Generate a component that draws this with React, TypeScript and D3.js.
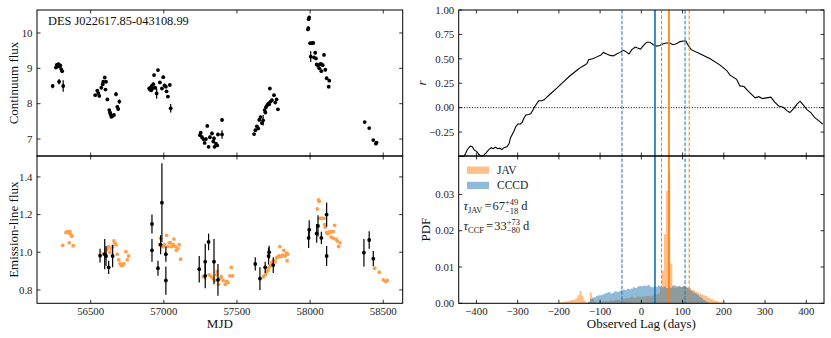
import { useEffect, useRef } from "react";
import * as d3 from "d3";

const W = 831;
const H = 338;
const FONT = "'Liberation Serif', 'Times New Roman', serif";
const ORANGE = "#ff7f0e";
const BLUE = "#1f77b4";

// continuum light curve (MJD, flux, error)
const contMjd = [
  56240, 56262, 56268, 56274, 56280, 56286, 56292, 56298, 56305, 56284, 56312,
  56531, 56545, 56552, 56559, 56573, 56582, 56586, 56596, 56601, 56605, 56614, 56627, 56632, 56636, 56641, 56650, 56659, 56673, 56682, 56688, 56696,
  56900, 56905, 56909, 56914, 56918, 56923, 56928, 56933, 56941, 56951, 56960, 56973, 56987, 56996, 57005, 57014, 57019, 57028, 57041, 57047,
  57247, 57252, 57261, 57270, 57279, 57288, 57297, 57306, 57315, 57329, 57338, 57343, 57347, 57356, 57365, 57370, 57398, 57398,
  57617, 57626, 57636, 57645, 57652, 57661, 57670, 57679, 57689, 57694, 57698, 57707, 57716, 57720, 57725, 57730, 57739, 57753, 57762, 57771, 57780,
  57985, 57988, 57990, 57994, 58000, 58004, 58013, 58022, 58026, 58035, 58040, 58045, 58054, 58063, 58068, 58077, 58077, 58086, 58095, 58104, 58113, 58127, 58131,
  58373, 58404, 58432, 58450, 58454,
];
const contFlux = [
  8.5, 9.02, 9.1, 9.05, 9.12, 9.06, 9.08, 8.98, 8.92, 8.62, 8.5,
  8.24, 8.37, 8.3, 8.22, 8.45, 8.55, 8.62, 8.74, 8.4, 8.62, 8.12, 7.82, 7.75, 7.7, 7.63, 7.65, 7.68, 8.27, 7.91, 7.85, 8.06,
  8.43, 8.4, 8.45, 8.38, 8.5, 8.44, 8.55, 8.81, 8.45, 8.29, 8.95, 8.6, 8.43, 8.75, 8.52, 8.48, 8.35, 8.2, 8.53, 7.87,
  7.11, 7.18, 7.05, 7.0, 6.89, 7.0, 7.37, 6.78, 7.05, 7.16, 6.93, 7.02, 6.78, 6.87, 6.82, 7.13, 7.54, 7.13,
  7.14, 7.25, 7.36, 7.3, 7.54, 7.62, 7.45, 7.53, 7.82, 7.75, 7.9, 7.96, 8.01, 7.98, 8.43, 8.06, 8.1, 8.24, 8.03, 8.12, 7.84,
  10.1, 10.14, 10.39, 10.44, 9.71, 9.33, 9.71, 9.72, 9.31, 9.44, 9.28, 9.11, 9.07, 9.0, 9.12, 9.12, 8.92, 9.09, 9.38, 8.96, 8.72, 8.48, 8.65,
  7.48, 7.31, 6.97, 6.87, 6.9,
];
const contErr = [
  0.06, 0.04, 0.04, 0.04, 0.04, 0.04, 0.04, 0.04, 0.04, 0.08, 0.16,
  0.03, 0.03, 0.03, 0.03, 0.03, 0.03, 0.03, 0.03, 0.03, 0.03, 0.03, 0.03, 0.03, 0.03, 0.03, 0.03, 0.03, 0.06, 0.04, 0.03, 0.06,
  0.04, 0.04, 0.04, 0.04, 0.04, 0.04, 0.04, 0.04, 0.04, 0.15, 0.04, 0.04, 0.04, 0.04, 0.04, 0.04, 0.04, 0.04, 0.04, 0.12,
  0.05, 0.05, 0.05, 0.05, 0.04, 0.05, 0.04, 0.04, 0.05, 0.05, 0.04, 0.05, 0.04, 0.04, 0.04, 0.05, 0.05, 0.12,
  0.04, 0.04, 0.04, 0.04, 0.04, 0.04, 0.04, 0.15, 0.04, 0.04, 0.04, 0.04, 0.04, 0.04, 0.04, 0.04, 0.04, 0.04, 0.04, 0.04, 0.04,
  0.04, 0.04, 0.04, 0.04, 0.04, 0.15, 0.04, 0.04, 0.04, 0.04, 0.04, 0.04, 0.04, 0.04, 0.04, 0.04, 0.04, 0.04, 0.04, 0.04, 0.04, 0.04, 0.04,
  0.03, 0.03, 0.03, 0.03, 0.03,
];

// emission-line light curve
const lineMjd = [
  56564, 56596, 56605, 56623, 56650, 56919, 56919, 56960, 56978, 56987, 57014, 57014,
  57242, 57283, 57283, 57306, 57343, 57370, 57625, 57657, 57693, 57716, 57720, 57748,
  57990, 57994, 58045, 58054, 58077, 58113, 58113, 58368, 58404, 58432,
];
const lineFlux = [
  0.982, 0.99, 0.98, 0.92, 0.98, 1.15, 1.01, 0.915, 1.04, 1.263, 0.99, 0.85,
  0.91, 0.875, 0.95, 1.055, 0.95, 0.853, 0.938, 0.86, 0.92, 0.98, 1.0, 0.932,
  1.076, 1.12, 1.1, 1.14, 1.076, 1.2, 0.98, 0.998, 1.065, 0.966,
];
const lineErr = [
  0.037, 0.08, 0.053, 0.035, 0.06, 0.05, 0.06, 0.04, 0.05, 0.21, 0.04, 0.075,
  0.07, 0.066, 0.095, 0.044, 0.12, 0.084, 0.035, 0.06, 0.03, 0.045, 0.035, 0.042,
  0.053, 0.05, 0.05, 0.057, 0.033, 0.064, 0.053, 0.073, 0.047, 0.04,
];

// shifted + scaled continuum (orange)
const shiftMjd = [
  56309, 56331, 56340, 56349, 56354, 56358, 56363, 56372, 56381,
  56586, 56605, 56614, 56623, 56632, 56641, 56650, 56659, 56664, 56673, 56682, 56691, 56700, 56709, 56718, 56727, 56741, 56750, 56759,
  56973, 56978, 56987, 56996, 57005, 57019, 57028, 57037, 57046, 57055, 57064, 57069, 57078, 57087, 57096, 57105, 57115,
  57270, 57311, 57324, 57338, 57347, 57361, 57365, 57374, 57384, 57393, 57406, 57420, 57429, 57438, 57452, 57461, 57470,
  57680, 57693, 57702, 57711, 57720, 57729, 57739, 57752, 57761, 57770, 57780, 57788, 57793, 57802, 57811, 57820, 57829, 57838, 57843, 57847,
  58049, 58058, 58063, 58067, 58077, 58086, 58095, 58099, 58104, 58113, 58122, 58131, 58140, 58145, 58149, 58158, 58158, 58168, 58176, 58186, 58195, 58204,
  58441, 58473, 58500, 58518, 58527,
];
const shiftFlux = [
  1.037, 1.104, 1.11, 1.107, 1.05, 1.11, 1.095, 1.085, 1.035,
  0.991, 1.01, 1.02, 1.03, 1.0, 1.02, 1.03, 1.06, 1.05, 1.04, 0.99, 0.96, 0.94, 0.93, 0.93, 0.94, 1.003, 0.96, 0.98,
  1.04, 1.074, 1.03, 1.03, 1.04, 1.09, 1.03, 1.05, 1.05, 1.03, 1.04, 1.07, 1.03, 1.01, 1.02, 1.04, 0.963,
  0.87, 0.88, 0.87, 0.86, 0.85, 0.88, 0.897, 0.83, 0.86, 0.87, 0.85, 0.83, 0.845, 0.84, 0.875, 0.92, 0.875,
  0.87, 0.88, 0.895, 0.905, 0.92, 0.93, 0.946, 0.955, 0.95, 0.97, 0.975, 0.98, 1.03, 0.977, 0.985, 1.01, 0.98, 0.995, 0.955, 0.99,
  1.23, 1.278, 1.27, 1.18, 1.18, 1.18, 1.18, 1.147, 1.133, 1.104, 1.1, 1.108, 1.106, 1.08, 1.11, 1.11, 1.075, 1.143, 1.07, 1.06, 1.03, 1.05,
  0.915, 0.894, 0.853, 0.845, 0.85,
];

// cross-correlation function
const ccfLag = [
  -441, -431, -427, -422, -415, -410, -405, -399, -394, -389, -383, -376, -370, -364, -359, -354, -348, -343, -338, -333,
  -326, -321, -317, -310, -304, -299, -294, -289, -284, -280, -273, -268, -263, -258, -254, -249, -242, -236, -221, -205,
  -189, -173, -157, -148, -140, -132, -128, -118, -108, -98, -92, -84, -76, -68, -60, -52, -43, -35, -30, -23,
  -15, -9, -2, 5, 13, 21, 29, 37, 45, 53, 61, 69, 77, 85, 94, 102, 108, 113, 121, 142,
  167, 191, 207, 215, 231, 239, 249, 258, 268, 276, 285, 293, 304, 314, 323, 333, 344, 353, 360, 370,
  378, 385, 393, 401, 411, 420, 430, 440,
];
const ccfR = [
  -0.497, -0.5, -0.476, -0.428, -0.394, -0.4, -0.435, -0.45, -0.48, -0.497, -0.49, -0.46, -0.43, -0.41, -0.42, -0.405, -0.42, -0.415, -0.43, -0.41,
  -0.4, -0.37, -0.305, -0.25, -0.19, -0.165, -0.17, -0.15, -0.1, -0.075, -0.07, -0.06, -0.025, 0.015, 0.04, 0.07, 0.07, 0.08, 0.14, 0.2,
  0.264, 0.327, 0.38, 0.41, 0.43, 0.45, 0.49, 0.5, 0.52, 0.54, 0.566, 0.55, 0.535, 0.53, 0.55, 0.566, 0.587, 0.566, 0.55, 0.594,
  0.62, 0.61, 0.6, 0.635, 0.67, 0.67, 0.645, 0.63, 0.637, 0.655, 0.662, 0.662, 0.645, 0.655, 0.676, 0.683, 0.683, 0.642, 0.594, 0.552,
  0.5, 0.436, 0.38, 0.333, 0.29, 0.223, 0.216, 0.175, 0.134, 0.1, 0.113, 0.093, 0.1, 0.107, 0.059, 0.017, 0.004, -0.03, -0.05, -0.007,
  0.038, 0.066, 0.025, -0.017, -0.05, -0.1, -0.133, -0.168,
];

// lag distributions, 5-day bins
const BIN = 5;
const javStart = -200;
const javPdf = [
  0.0002, 0.0003, 0.0004, 0.0005, 0.0006, 0.0008, 0.0009, 0.001, 0.0014, 0.0022, // -200
  0.0034, 0.002, 0.0008, 0.0002, 0.0003, 0.003, 0.0012, 0.0004, 0.0003, 0.0003, // -150
  0.0004, 0.0005, 0.0006, 0.0005, 0.0007, 0.0008, 0.0007, 0.0009, 0.001, 0.0009, // -100
  0.0011, 0.0012, 0.0014, 0.0013, 0.0016, 0.0018, 0.0015, 0.0017, 0.0019, 0.0017, // -50
  0.0018, 0.0019, 0.0021, 0.002, 0.0019, 0.0021, 0.0022, 0.0024, 0.0028, 0.0045, // 0
  0.009, 0.019, 0.031, 0.036, 0.011, 0.005, 0.0042, 0.0045, 0.0046, 0.0045, // 50
  0.0048, 0.0046, 0.0044, 0.0042, 0.0038, 0.0036, 0.0032, 0.003, 0.0026, 0.0024, // 100
  0.0022, 0.002, 0.0016, 0.0013, 0.0011, 0.0008, 0.0006, 0.0004, 0.0003, 0.0002, // 150
];
const cccdStart = -130;
const cccdPdf = [
  0.0004, 0.0012, 0.0016, 0.0017, 0.002, 0.0022, 0.0022, 0.0024, 0.0027, 0.0029,
  0.0031, 0.0027, 0.003, 0.0033, 0.0031, 0.0033, 0.0036, 0.0038, 0.0037, 0.004,
  0.0039, 0.0041, 0.0044, 0.0042, 0.0046, 0.0048, 0.0047, 0.0049, 0.0048, 0.0051,
  0.0046, 0.0044, 0.0047, 0.0045, 0.0049, 0.0047, 0.0044, 0.0046, 0.0042, 0.0045,
  0.0043, 0.0047, 0.0049, 0.0046, 0.0048, 0.0045, 0.0047, 0.0044, 0.0042, 0.0038,
  0.0034, 0.003, 0.0027, 0.0023, 0.0018, 0.0014, 0.0009, 0.0005, 0.0002,
];

// lag estimates: [median, lower, upper]
const javLag = [67, 49, 116];
const ccfLagEst = [33, -47, 106];

const mjdTicks = [56500, 57000, 57500, 58000, 58500];
const contTicks = [7, 8, 9, 10];
const lineTicks = [0.8, 1.0, 1.2, 1.4];
const lineTickLabels = ["0.8", "1.0", "1.2", "1.4"];
const lagTicks = [-400, -300, -200, -100, 0, 100, 200, 300, 400];
const rTicks = [-0.25, 0, 0.25, 0.5, 0.75, 1.0];
const pdfTicks = [0, 0.01, 0.02, 0.03];

const minus = (s: string) => s.replace("-", "\u2212");

function drawChart(el: SVGSVGElement) {
  const svg = d3.select(el);
  svg.selectAll("*").remove();
  svg.style("font-family", FONT);

  const L = { x0: 37, x1: 402.7 };
  const R = { x0: 458.7, x1: 824 };
  const yTop = 10, yMid = 156, yBot = 303.3;

  const xMjd = d3.scaleLinear().domain([56133, 58633]).range([L.x0, L.x1]);
  const yCont = d3.scaleLinear().domain([6.52, 10.65]).range([yMid, yTop]);
  const yLine = d3.scaleLinear().domain([0.729, 1.511]).range([yBot, yMid]);
  const xLag = d3.scaleLinear().domain([-443, 443]).range([R.x0, R.x1]);
  const yR = d3.scaleLinear().domain([-0.495, 1.0]).range([yMid, yTop]);
  const yPdf = d3.scaleLinear().domain([0, 0.0406]).range([yBot, yMid]);

  function frame(x: any, y: any, xt: number[], yt: number[], yl: string[], xl: string[] | null) {
    const [x0, x1] = x.range();
    const [y0, y1] = y.range(); // y0 bottom, y1 top
    const g = svg.append("g");
    const tl = 3.5;
    xt.forEach((t) => {
      const px = x(t);
      g.append("line").attr("x1", px).attr("x2", px).attr("y1", y0).attr("y2", y0 - tl);
      g.append("line").attr("x1", px).attr("x2", px).attr("y1", y1).attr("y2", y1 + tl);
    });
    yt.forEach((t, i) => {
      const py = y(t);
      g.append("line").attr("x1", x0).attr("x2", x0 + tl).attr("y1", py).attr("y2", py);
      g.append("line").attr("x1", x1).attr("x2", x1 - tl).attr("y1", py).attr("y2", py);
      svg.append("text")
        .attr("x", x0 - 4.5)
        .attr("y", py)
        .attr("dy", "0.34em")
        .attr("text-anchor", "end")
        .attr("font-size", 10.8)
        .attr("fill", "#222")
        .text(yl[i]);
    });
    g.selectAll("line").attr("stroke", "#000").attr("stroke-width", 0.8);
    if (xl) {
      xt.forEach((t, i) => {
        svg.append("text")
          .attr("x", x(t))
          .attr("y", y0 + 12)
          .attr("text-anchor", "middle")
          .attr("font-size", 10.8)
          .attr("fill", "#222")
          .text(xl[i]);
      });
    }
    svg.append("rect")
      .attr("x", x0).attr("y", y1)
      .attr("width", x1 - x0).attr("height", y0 - y1)
      .attr("fill", "none").attr("stroke", "#000").attr("stroke-width", 1);
  }

  // ---- top-left: continuum
  const gc = svg.append("g");
  contMjd.forEach((m, i) => {
    const e = contErr[i];
    gc.append("line")
      .attr("x1", xMjd(m)).attr("x2", xMjd(m))
      .attr("y1", yCont(contFlux[i] - e)).attr("y2", yCont(contFlux[i] + e))
      .attr("stroke", "#000").attr("stroke-width", 1.2);
    gc.append("circle")
      .attr("cx", xMjd(m)).attr("cy", yCont(contFlux[i]))
      .attr("r", 1.9).attr("fill", "#000");
  });
  svg.append("text")
    .attr("x", 48).attr("y", 25)
    .attr("font-size", 12.4)
    .attr("fill", "#111")
    .text("DES J022617.85-043108.99");
  frame(xMjd, yCont, mjdTicks, contTicks, contTicks.map(String), null);

  // ---- bottom-left: emission line
  const gs = svg.append("g").attr("opacity", 0.75);
  shiftMjd.forEach((m, i) => {
    gs.append("circle")
      .attr("cx", xMjd(m)).attr("cy", yLine(shiftFlux[i]))
      .attr("r", 1.9).attr("fill", ORANGE);
  });
  const gl = svg.append("g");
  lineMjd.forEach((m, i) => {
    const e = lineErr[i];
    gl.append("line")
      .attr("x1", xMjd(m)).attr("x2", xMjd(m))
      .attr("y1", yLine(lineFlux[i] - e)).attr("y2", yLine(lineFlux[i] + e))
      .attr("stroke", "#000").attr("stroke-width", 1.2);
    gl.append("circle")
      .attr("cx", xMjd(m)).attr("cy", yLine(lineFlux[i]))
      .attr("r", 1.9).attr("fill", "#000");
  });
  frame(xMjd, yLine, mjdTicks, lineTicks, lineTickLabels, mjdTicks.map(String));

  // ---- right panels: histograms
  const histArea = (start: number, vals: number[]) => {
    const pts = vals.map((v, i) => [start + i * BIN, v]);
    pts.push([start + vals.length * BIN, 0]);
    return d3.area<number[]>()
      .x((d) => xLag(d[0]))
      .y0(yPdf(0))
      .y1((d) => yPdf(d[1]))
      .curve(d3.curveStepAfter)(pts);
  };
  svg.append("path").attr("d", histArea(javStart, javPdf)).attr("fill", ORANGE).attr("fill-opacity", 0.5);
  svg.append("path").attr("d", histArea(cccdStart, cccdPdf)).attr("fill", BLUE).attr("fill-opacity", 0.5);

  // CCF
  svg.append("line")
    .attr("x1", R.x0).attr("x2", R.x1)
    .attr("y1", yR(0)).attr("y2", yR(0))
    .attr("stroke", "#000").attr("stroke-width", 1)
    .attr("stroke-dasharray", "1,1.65");
  svg.append("path")
    .datum(ccfLag.map((l, i) => [l, ccfR[i]]))
    .attr("fill", "none")
    .attr("stroke", "#000")
    .attr("stroke-width", 1.1)
    .attr("d", d3.line<number[]>().x((d) => xLag(d[0])).y((d) => yR(d[1])));

  // lag lines across both right panels
  const vline = (lag: number, color: string, solid: boolean) => {
    svg.append("line")
      .attr("x1", xLag(lag)).attr("x2", xLag(lag))
      .attr("y1", yTop).attr("y2", yBot)
      .attr("stroke", color)
      .attr("stroke-width", solid ? 1.7 : 1)
      .attr("stroke-dasharray", solid ? null : "3.7,1.6");
  };
  vline(ccfLagEst[1], BLUE, false);
  vline(ccfLagEst[2], BLUE, false);
  vline(javLag[1], ORANGE, false);
  vline(javLag[2], ORANGE, false);
  vline(ccfLagEst[0], BLUE, true);
  vline(javLag[0], ORANGE, true);

  frame(xLag, yR, lagTicks, rTicks, rTicks.map((t) => minus(t.toFixed(2))), null);
  frame(xLag, yPdf, lagTicks, pdfTicks, pdfTicks.map((t) => t.toFixed(2)), lagTicks.map((t) => minus(String(t))));

  // legend
  const leg = [
    { name: "JAV", color: ORANGE },
    { name: "CCCD", color: BLUE },
  ];
  leg.forEach((d, i) => {
    svg.append("rect")
      .attr("x", 467).attr("y", 166.5 + i * 15.3)
      .attr("width", 22).attr("height", 7.3)
      .attr("fill", d.color).attr("fill-opacity", 0.5);
    svg.append("text")
      .attr("x", 497).attr("y", 174 + i * 15.3)
      .attr("font-size", 11.5).attr("fill", "#222")
      .text(d.name);
  });

  // lag annotations
  const mathLine = (x: number, y: number, pieces: any[]) => {
    let cx = x;
    pieces.forEach((p) => {
      if (p.sup !== undefined) {
        const a = svg.append("text").attr("x", cx).attr("y", y - 4.8).attr("font-size", 8.5).attr("fill", "#222").text(p.sup);
        const b = svg.append("text").attr("x", cx).attr("y", y + 3.6).attr("font-size", 8.5).attr("fill", "#222").text(p.sub);
        cx += Math.max((a.node() as any).getComputedTextLength(), (b.node() as any).getComputedTextLength()) + (p.gap || 0);
      } else {
        const t = svg.append("text")
          .attr("x", cx).attr("y", y + (p.dy || 0))
          .attr("font-size", p.size || 12.5)
          .attr("font-style", p.italic ? "italic" : null)
          .attr("fill", "#222")
          .text(p.t);
        cx += (t.node() as any).getComputedTextLength() + (p.gap || 0);
      }
    });
  };
  mathLine(463.5, 210, [
    { t: "\u03c4", italic: true },
    { t: "JAV", size: 8.5, dy: 3, gap: 2 },
    { t: "=", gap: 1 },
    { t: String(javLag[0]) },
    { sup: "+" + (javLag[2] - javLag[0]), sub: "\u2212" + (javLag[0] - javLag[1]), gap: 3 },
    { t: "d" },
  ]);
  mathLine(463.5, 229.5, [
    { t: "\u03c4", italic: true },
    { t: "CCF", size: 8.5, dy: 3, gap: 2 },
    { t: "=", gap: 1 },
    { t: String(ccfLagEst[0]) },
    { sup: "+" + (ccfLagEst[2] - ccfLagEst[0]), sub: "\u2212" + (ccfLagEst[0] - ccfLagEst[1]), gap: 3 },
    { t: "d" },
  ]);

  // axis labels
  const ylab = (x: number, y: number, txt: string, italic = false) =>
    svg.append("text")
      .attr("transform", `translate(${x},${y}) rotate(-90)`)
      .attr("text-anchor", "middle")
      .attr("font-size", 13)
      .attr("font-style", italic ? "italic" : null)
      .attr("fill", "#111")
      .text(txt);
  ylab(18, (yTop + yMid) / 2, "Continuum flux");
  ylab(18, (yMid + yBot) / 2, "Emission-line flux");
  ylab(426, (yTop + yMid) / 2, "r", true);
  ylab(430, (yMid + yBot) / 2, "PDF");

  svg.append("text")
    .attr("x", (L.x0 + L.x1) / 2).attr("y", 328)
    .attr("text-anchor", "middle").attr("font-size", 13).attr("fill", "#111")
    .text("MJD");
  svg.append("text")
    .attr("x", (R.x0 + R.x1) / 2).attr("y", 328)
    .attr("text-anchor", "middle").attr("font-size", 13).attr("fill", "#111")
    .text("Observed Lag (days)");
}

function App() {
  const ref = useRef<SVGSVGElement>(null);
  useEffect(() => {
    if (ref.current) drawChart(ref.current);
  }, []);
  return (
    <div style={{ position: "absolute", left: 0, top: 0, background: "#fff" }}>
      <svg ref={ref} width={W} height={H} />
    </div>
  );
}

export default App;
